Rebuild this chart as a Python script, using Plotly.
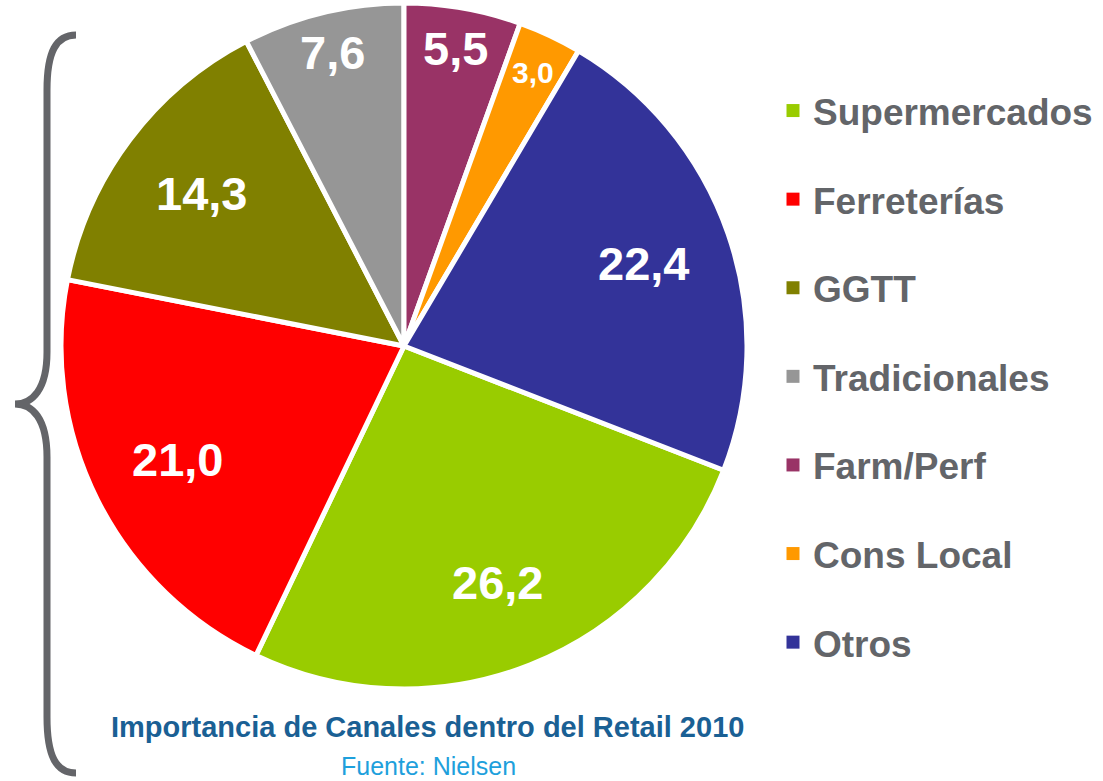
import math
import plotly.graph_objects as go

# ---- data ----
categories = ["Supermercados", "Ferreterías", "GGTT", "Tradicionales",
              "Farm/Perf", "Cons Local", "Otros"]
values = [26.2, 21.0, 14.3, 7.6, 5.5, 3.0, 22.4]
colors = ["#99CC00", "#FF0000", "#808000", "#969696",
          "#993366", "#FF9900", "#333399"]
title_text = "Importancia de Canales dentro del Retail 2010"
source_text = "Fuente: Nielsen"

# ---- layout constants (pixels) ----
W, H = 1103, 781
CX, CY, R = 404, 346, 343
FONT = "Liberation Sans, Arial, sans-serif"

total = sum(values)
# Farm/Perf starts at 12 o'clock; slices run clockwise
first_top = categories.index("Farm/Perf")
rotation = 360.0 * sum(values[first_top:]) / total

fig = go.Figure()

fig.add_trace(go.Pie(
    labels=categories,
    values=values,
    sort=False,
    direction="clockwise",
    rotation=rotation,
    marker=dict(colors=colors, line=dict(color="white", width=5)),
    textinfo="none",
    hoverinfo="label+value",
    showlegend=False,
    domain=dict(x=[(CX - R) / W, (CX + R) / W],
                y=[1 - (CY + R) / H, 1 - (CY - R) / H]),
))

# legend entries (one group per category, for spacing)
for cat, col in zip(categories, colors):
    fig.add_trace(go.Scatter(
        x=[None], y=[None], mode="markers", name=cat, legendgroup=cat,
        marker=dict(symbol="square", size=13, color=col),
        hoverinfo="skip",
    ))

# slice value labels, placed from the data angles
annotations = []
cum = 0.0
for cat, v in zip(categories, values):
    mid = rotation + 360.0 * (cum + v / 2.0) / total
    cum += v
    a = math.radians(mid)
    frac = 0.74 if v >= 10 else 0.88
    size = 47 if v >= 4 else 30
    annotations.append(dict(
        x=CX + frac * R * math.sin(a), y=CY - frac * R * math.cos(a),
        xref="x", yref="y", showarrow=False,
        text=f"{v:.1f}".replace(".", ","),
        font=dict(family=FONT, size=size, color="white", weight="bold"),
    ))

annotations.append(dict(
    x=427, y=727, xref="x", yref="y", showarrow=False, text=title_text,
    font=dict(family=FONT, size=29, color="#1A6094", weight="bold"),
))
annotations.append(dict(
    x=428, y=766, xref="x", yref="y", showarrow=False, text=source_text,
    font=dict(family=FONT, size=25, color="#1EA0DC"),
))

brace = ("M 76,35 C 56,35 47,52 47,90 L 47,352 C 47,390 32,404 15,404 "
         "C 32,404 47,418 47,457 L 47,717 C 47,756 56,773 76,773")

fig.update_layout(
    width=W, height=H, autosize=False,
    margin=dict(l=0, r=0, t=0, b=0),
    paper_bgcolor="white", plot_bgcolor="white",
    xaxis=dict(range=[0, W], domain=[0, 1], visible=False, fixedrange=True),
    yaxis=dict(range=[H, 0], domain=[0, 1], visible=False, fixedrange=True),
    showlegend=True,
    legend=dict(
        x=773 / W, xanchor="left", y=1 - 80 / H, yanchor="top",
        font=dict(family=FONT, size=37, color="#636569", weight="bold"),
        tracegroupgap=37.5, bgcolor="rgba(0,0,0,0)",
    ),
    shapes=[dict(type="path", path=brace, xref="x", yref="y",
                 line=dict(color="#646569", width=7))],
    annotations=annotations,
)

fig.write_html("out.html",
               config={"displayModeBar": False},
               post_script="document.body.style.margin='0';"
                           "document.body.style.overflow='hidden';")
